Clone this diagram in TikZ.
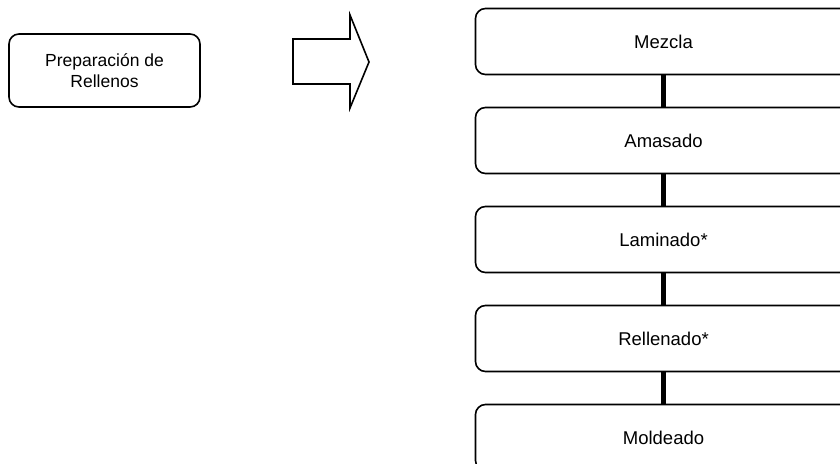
\documentclass[tikz,border=0pt]{standalone}
\usepackage{fontspec}
\setmainfont{Liberation Sans}
\begin{document}
\begin{tikzpicture}[x=1pt,y=-1pt,
  stepbox/.style={draw=black,line width=1.6pt,rounded corners=10pt,fill=white,
    minimum width=376pt,minimum height=66pt,inner sep=0pt,
    font=\fontsize{18.5}{22}\selectfont},
  prepbox/.style={draw=black,line width=1.6pt,rounded corners=10pt,fill=white,
    minimum width=191pt,minimum height=73pt,inner sep=0pt,align=center,
    font=\fontsize{17.5}{21}\selectfont},
  conn/.style={line width=5pt,draw=black},
  blockarrow/.style={draw=black,line width=1.6pt,fill=white,line join=miter}
]
\useasboundingbox (0,0) rectangle (840,463);
\node[prepbox] (prep) at (104.5,70.5) {Preparación de\\Rellenos};
\draw[blockarrow] (293,39) -- (350,39) -- (350,15) -- (369,62) -- (350,108) -- (350,84) -- (293,84) -- cycle;
\node[stepbox] (b1) at (663.5,41.5) {Mezcla};
\node[stepbox] (b2) at (663.5,140.5) {Amasado};
\node[stepbox] (b3) at (663.5,239.5) {Laminado*};
\node[stepbox] (b4) at (663.5,338.5) {Rellenado*};
\node[stepbox] (b5) at (663.5,437.5) {Moldeado};
\draw[conn] (b1.south) -- (b2.north);
\draw[conn] (b2.south) -- (b3.north);
\draw[conn] (b3.south) -- (b4.north);
\draw[conn] (b4.south) -- (b5.north);
\end{tikzpicture}
\end{document}
